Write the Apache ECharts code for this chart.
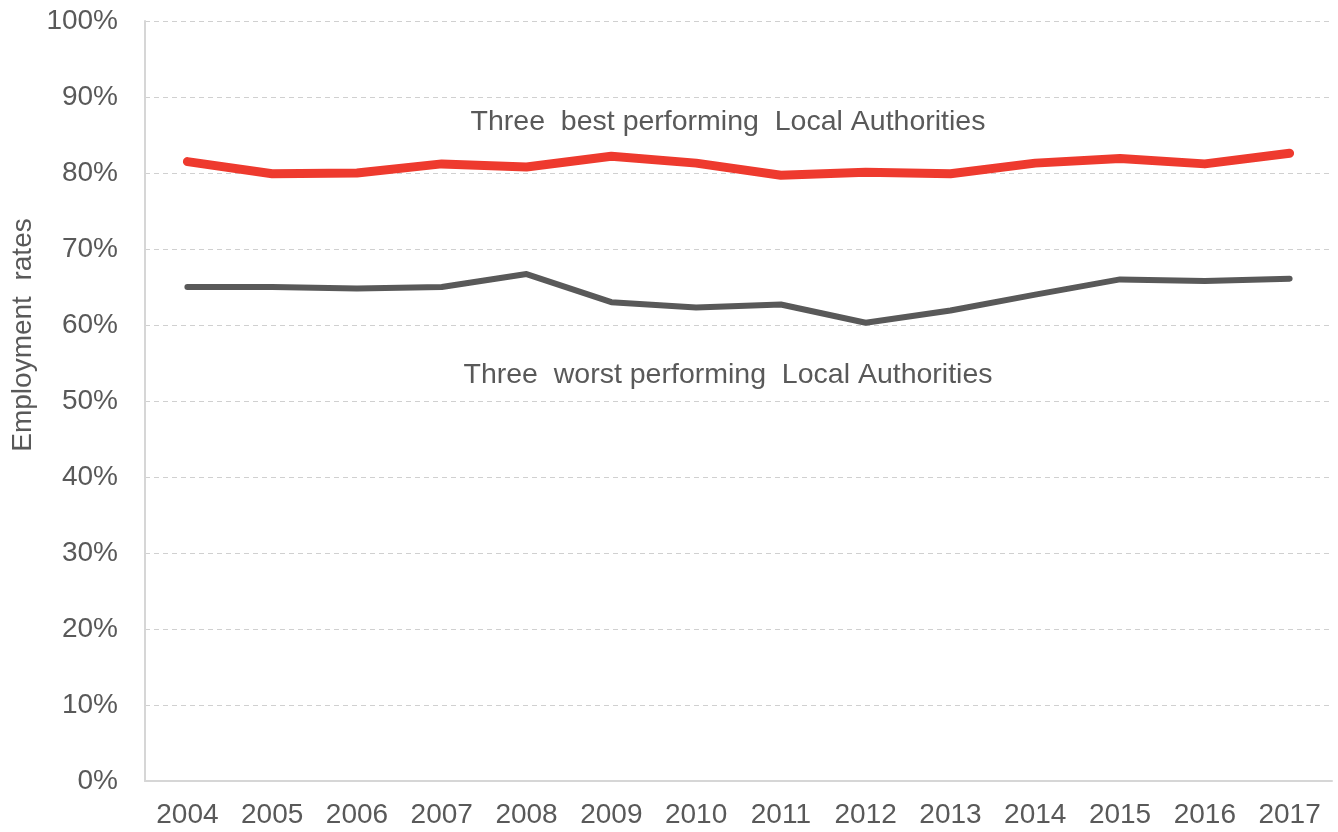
<!DOCTYPE html>
<html>
<head>
<meta charset="utf-8">
<script src="https://cdn.jsdelivr.net/npm/echarts@6/dist/echarts.min.js"></script>
<style>
  html, body { margin: 0; padding: 0; background: #fff; }
  #main { width: 1338px; height: 832px; }
</style>
</head>
<body>
<div id="main"></div>
<script>
// categories / values
let years = ['2004', '2005', '2006', '2007', '2008', '2009', '2010', '2011', '2012', '2013', '2014', '2015', '2016', '2017'];
let bestRates = [81.5, 79.9, 80.0, 81.2, 80.8, 82.2, 81.3, 79.7, 80.1, 79.9, 81.3, 81.9, 81.2, 82.6];
let worstRates = [65.0, 65.0, 64.8, 65.0, 66.7, 63.0, 62.3, 62.7, 60.3, 61.9, 64.0, 66.0, 65.8, 66.1];
let bestLabel = 'Three  best performing  Local Authorities';
let worstLabel = 'Three  worst performing  Local Authorities';
let yAxisTitle = 'Employment  rates';

let chart = echarts.init(document.getElementById('main'));
let fontFamily = '"Liberation Sans", Arial, sans-serif';
let textColor = '#595959';

const option = {
    animation: false,
    textStyle: { fontFamily: fontFamily },
    grid: { left: 145, right: 6, top: 21, bottom: 51, containLabel: false, outerBoundsMode: 'none' },
    xAxis: {
        type: 'category',
        data: years,
        boundaryGap: true,
        axisTick: { show: false },
        axisLine: { lineStyle: { color: '#d6d6d6', width: 2 } },
        axisLabel: { color: textColor, fontSize: 28, margin: 20, fontFamily: fontFamily },
        splitLine: { show: false }
    },
    yAxis: {
        type: 'value',
        min: 0,
        max: 100,
        interval: 10,
        axisLine: { show: true, lineStyle: { color: '#d6d6d6', width: 2 } },
        axisTick: { show: false },
        axisLabel: {
            color: textColor, fontSize: 28, margin: 27, fontFamily: fontFamily,
            formatter: function (v) { return v + '%'; }
        },
        splitLine: { show: true, lineStyle: { color: '#d0d0d0', type: [5, 4], width: 1 } }
    },
    series: [
        {
            name: 'best',
            type: 'line',
            data: bestRates,
            symbol: 'none',
            lineStyle: { color: '#ee3a2e', width: 9, cap: 'round', join: 'round' },
            z: 3
        },
        {
            name: 'worst',
            type: 'line',
            data: worstRates,
            symbol: 'none',
            lineStyle: { color: '#595959', width: 6, cap: 'round', join: 'round' },
            z: 2
        }
    ],
    graphic: [
        {
            type: 'text', x: 728, y: 122,
            style: { text: bestLabel, fill: textColor, font: '28.5px ' + fontFamily, align: 'center', verticalAlign: 'middle' }
        },
        {
            type: 'text', x: 728, y: 375,
            style: { text: worstLabel, fill: textColor, font: '28.5px ' + fontFamily, align: 'center', verticalAlign: 'middle' }
        },
        {
            type: 'text', x: 23, y: 335, rotation: Math.PI / 2,
            style: { text: yAxisTitle, fill: textColor, font: '28px ' + fontFamily, align: 'center', verticalAlign: 'middle' }
        }
    ]
};
chart.setOption(option);
</script>
</body>
</html>
